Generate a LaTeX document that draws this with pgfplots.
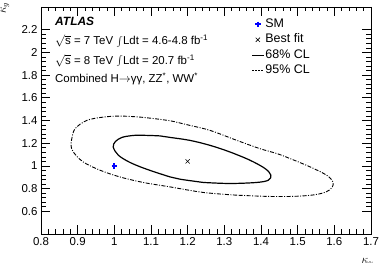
\documentclass[border=0pt]{standalone}
\usepackage{fontspec}
\setmainfont{Liberation Sans}
\usepackage{pgfplots}
\pgfplotsset{compat=1.18}
\pgfplotsset{
  short line legend/.style={legend image code/.code={\draw[##1] (0bp,0bp) -- (11.5bp,0bp);}},
  short mark legend/.style={legend image code/.code={\draw[mark repeat=2,mark phase=2,##1] plot coordinates {(0bp,0bp) (5.5bp,0bp) (11bp,0bp)};}},
}

\begin{document}
\begin{tikzpicture}
\useasboundingbox (-41bp,-29bp) rectangle (338bp,234bp);
\begin{axis}[
  at={(0,0)}, anchor=south west,
  scale only axis, width=330bp, height=227bp,
  xmin=0.8, xmax=1.7, ymin=0.4, ymax=2.4,
  xtick={0.8,0.9,1.0,1.1,1.2,1.3,1.4,1.5,1.6,1.7},
  ytick={0.6,0.8,1.0,1.2,1.4,1.6,1.8,2.0,2.2},
  minor x tick num=4, minor y tick num=4,
  xtick pos=both, ytick pos=both,
  xticklabel pos=lower, yticklabel pos=left,
  tick align=inside,
  major tick length=9bp, minor tick length=4.5bp,
  axis line style={line width=0.9bp},
  every tick/.style={black, line width=0.6bp},
  tick label style={font=\fontsize{11.5}{13}\selectfont},
  /pgf/number format/assume math mode=true,
  legend cell align=left,
  short line legend,
  legend style={
    at={(rel axis cs:0.638,0.951)}, anchor=north west,
    draw=none, fill=none, inner sep=0pt,
    font=\fontsize{12.5}{14}\selectfont,
    row sep=3.5bp, column sep=1bp,
    nodes={inner sep=0pt, text height=9bp, text depth=3bp},
  },
]
% 95% CL contour
\addplot[black, line width=0.9bp, smooth, tension=0.55,
  dash pattern=on 4bp off 1.5bp on 1bp off 1.5bp, forget plot] coordinates {
  (1.334,0.742) (1.243,0.766) (1.152,0.815) (1.079,0.854) (1.015,0.903)
  (0.961,0.962) (0.915,1.035) (0.888,1.123) (0.882,1.180) (0.884,1.240)
  (0.893,1.328) (0.925,1.401) (0.970,1.430) (1.015,1.439) (1.070,1.430)
  (1.125,1.410) (1.152,1.398) (1.206,1.357) (1.261,1.313) (1.334,1.225)
  (1.397,1.152) (1.443,1.109) (1.479,1.065) (1.534,0.991) (1.579,0.918)
  (1.596,0.860) (1.594,0.810) (1.577,0.770) (1.545,0.745) (1.500,0.733)
  (1.452,0.730) (1.400,0.733) (1.334,0.742)
};
% 68% CL contour
\addplot[black, line width=1.2bp, smooth, tension=0.55, forget plot] coordinates {
  (1.243,0.854) (1.179,0.883) (1.152,0.903) (1.088,0.971) (1.043,1.030)
  (1.011,1.094) (0.997,1.166) (1.003,1.215) (1.020,1.250) (1.045,1.266)
  (1.070,1.270) (1.125,1.264) (1.152,1.251) (1.206,1.225) (1.261,1.181)
  (1.315,1.123) (1.370,1.050) (1.411,0.977) (1.427,0.918) (1.420,0.874)
  (1.388,0.854) (1.315,0.845) (1.243,0.854)
};
% Standard Model expectation
\addplot[only marks, mark=+, blue, mark size=2.8bp, line width=1.8bp, short mark legend]
  coordinates {(1.0,1.0)};
\addlegendentry{SM}
% Best-fit point
\addplot[only marks, mark=x, black, mark size=3bp, line width=0.6bp, short mark legend]
  coordinates {(1.2,1.04)};
\addlegendentry{Best fit}
\addlegendimage{black, line width=1.2bp}
\addlegendentry{68\% CL}
\addlegendimage{black, line width=0.9bp, dash pattern=on 1.5bp off 1.5bp}
\addlegendentry{95\% CL}
\end{axis}

% Axis titles
\node[rotate=90, anchor=east, inner sep=0pt] at (-36bp,232bp) {\fontsize{12}{14}\selectfont$\kappa_g$};
\node[anchor=north east, inner sep=0pt] at (333bp,-24bp) {\fontsize{12}{14}\selectfont$\kappa_\gamma$};

% Experiment label and data sets
\node[anchor=base west, inner sep=0pt] at (14bp,208bp) {\fontsize{12}{14}\selectfont\bfseries\itshape ATLAS};
\node[anchor=base west, inner sep=0pt] at (14bp,189bp) {\fontsize{11.5}{14}\selectfont$\sqrt{\hbox{s}}$ = 7 TeV $\int$Ldt = 4.6-4.8 fb\textsuperscript{-1}};
\node[anchor=base west, inner sep=0pt] at (14bp,169.5bp) {\fontsize{11.5}{14}\selectfont$\sqrt{\hbox{s}}$ = 8 TeV $\int$Ldt = 20.7 fb\textsuperscript{-1}};
\node[anchor=base west, inner sep=0pt] at (14bp,151.5bp) {\fontsize{11.5}{14}\selectfont Combined H$\rightarrow$γγ, ZZ\textsuperscript{*}, WW\textsuperscript{*}};
\end{tikzpicture}
\end{document}
